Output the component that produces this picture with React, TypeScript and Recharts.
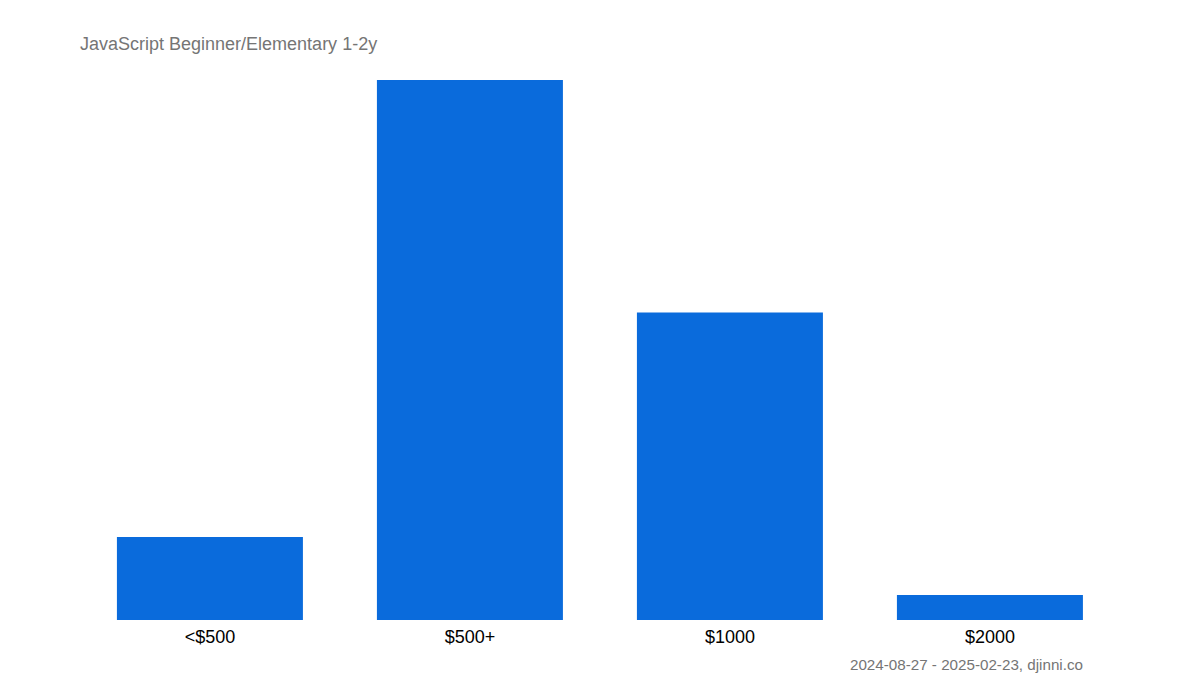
import React from "react";
import { BarChart, Bar, XAxis, YAxis } from "recharts";

const categories = ["<$500", "$500+", "$1000", "$2000"];
const counts = [10, 65, 37, 3];

const title = "JavaScript Beginner/Elementary 1-2y";
const footer = "2024-08-27 - 2025-02-23, djinni.co";

const data = categories.map((name, i) => ({ name, total: counts[i] }));

const font = "'Liberation Sans', Arial, sans-serif";

export default function App() {
  return (
    <div
      style={{
        position: "absolute",
        left: 0,
        top: 0,
        width: 1200,
        height: 700,
        background: "#fff",
        fontFamily: font,
      }}
    >
      <div
        style={{
          position: "absolute",
          left: 80,
          top: 35,
          fontSize: 18,
          lineHeight: "18px",
          color: "#757575",
        }}
      >
        {title}
      </div>
      <BarChart
        width={1200}
        height={700}
        data={data}
        margin={{ top: 80, right: 80, bottom: 50, left: 80 }}
        barCategoryGap="14.2%"
      >
        <XAxis
          dataKey="name"
          tickLine={false}
          axisLine={false}
          height={30}
          tickMargin={4}
          tick={{ fill: "#000", fontSize: 18, fontFamily: font }}
        />
        <YAxis hide domain={[0, "dataMax"]} />
        <Bar dataKey="total" fill="#0a6bdc" isAnimationActive={false} />
      </BarChart>
      <div
        style={{
          position: "absolute",
          right: 117,
          top: 657,
          fontSize: 15.2,
          lineHeight: "15px",
          color: "#757575",
          textAlign: "right",
          whiteSpace: "nowrap",
        }}
      >
        {footer}
      </div>
    </div>
  );
}
